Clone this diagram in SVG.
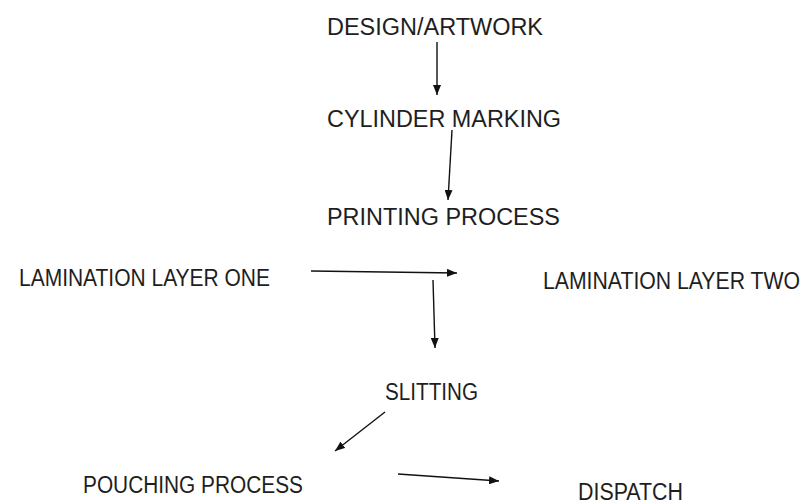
<svg xmlns="http://www.w3.org/2000/svg" width="804" height="503" viewBox="0 0 804 503">
  <style>
    .lbl { font-family: "Liberation Sans", Arial, sans-serif; font-size: 23px; fill: #1e1e1e; }
    .conn { stroke: #111; stroke-width: 1.4; fill: none; marker-end: url(#arrow); }
  </style>
  <defs>
    <marker id="arrow" viewBox="0 0 10 8" refX="10" refY="4" markerWidth="10" markerHeight="8" markerUnits="userSpaceOnUse" orient="auto">
      <path d="M0,0 L10,4 L0,8 Z" fill="#111"/>
    </marker>
  </defs>
  <rect width="804" height="503" fill="#ffffff"/>
  <g id="design"><text class="lbl" x="327" y="35" textLength="216" lengthAdjust="spacingAndGlyphs">DESIGN/ARTWORK</text></g>
  <g id="cylinder"><text class="lbl" x="327" y="127" textLength="234" lengthAdjust="spacingAndGlyphs">CYLINDER MARKING</text></g>
  <g id="printing"><text class="lbl" x="327" y="225" textLength="233" lengthAdjust="spacingAndGlyphs">PRINTING PROCESS</text></g>
  <g id="lam1"><text class="lbl" x="19" y="286" textLength="251" lengthAdjust="spacingAndGlyphs">LAMINATION LAYER ONE</text></g>
  <g id="lam2"><text class="lbl" x="543" y="289" textLength="257" lengthAdjust="spacingAndGlyphs">LAMINATION LAYER TWO</text></g>
  <g id="slitting"><text class="lbl" x="385" y="400" textLength="93" lengthAdjust="spacingAndGlyphs">SLITTING</text></g>
  <g id="pouching"><text class="lbl" x="83" y="493" textLength="220" lengthAdjust="spacingAndGlyphs">POUCHING PROCESS</text></g>
  <g id="dispatch"><text class="lbl" x="578" y="500" textLength="105" lengthAdjust="spacingAndGlyphs">DISPATCH</text></g>
  <g id="connectors">
    <line class="conn" x1="437" y1="42" x2="437" y2="95"/>
    <line class="conn" x1="452" y1="130" x2="448" y2="200"/>
    <line class="conn" x1="311" y1="271" x2="457" y2="273"/>
    <line class="conn" x1="433" y1="280" x2="435" y2="348"/>
    <line class="conn" x1="385" y1="412" x2="335" y2="451"/>
    <line class="conn" x1="398" y1="474" x2="499" y2="481"/>
  </g>
</svg>
